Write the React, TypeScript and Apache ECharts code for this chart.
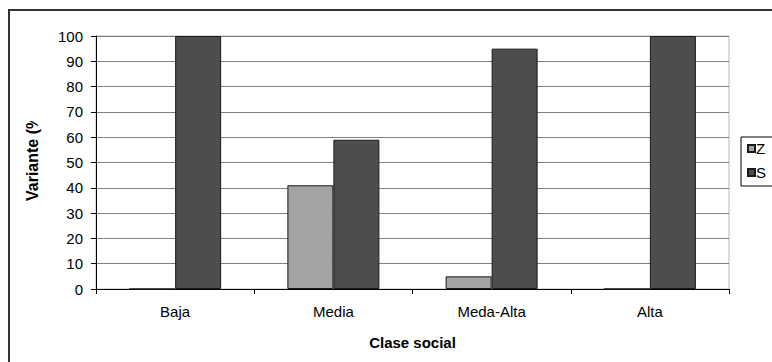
import React, { useEffect, useRef } from "react";
import * as echarts from "echarts";

const categories = ["Baja", "Media", "Meda-Alta", "Alta"];
const seriesNames = ["Z", "S"];
const zValues = [0, 41, 5, 0];
const sValues = [100, 59, 95, 100];
const seriesColors = ["#a3a3a3", "#4d4d4d"];
const xTitle = "Clase social";
const yTitle = "Variante (%)";

const FONT = "'Liberation Sans', Arial, sans-serif";

export default function App() {
  const ref = useRef<HTMLDivElement>(null);

  useEffect(() => {
    if (!ref.current) return;
    const chart = echarts.init(ref.current, undefined, { renderer: "svg" });
    const values = [zValues, sValues];
    chart.setOption({
      animation: false,
      backgroundColor: "#ffffff",
      textStyle: { fontFamily: FONT },
      grid: {
        left: 96,
        right: 43,
        top: 36,
        bottom: 73,
        show: true,
        borderColor: "#b8b8b8",
        borderWidth: 1,
        backgroundColor: "transparent",
      },
      legend: {
        orient: "vertical",
        left: 741,
        top: 137,
        padding: [4, 40, 6, 6],
        itemGap: 9,
        itemWidth: 7,
        itemHeight: 7,
        icon: "rect",
        borderColor: "#000",
        borderWidth: 1,
        textStyle: { fontSize: 15, color: "#000", fontFamily: FONT, padding: [0, 0, 0, -4] },
        data: seriesNames,
      },
      xAxis: {
        type: "category",
        data: categories,
        boundaryGap: true,
        name: xTitle,
        nameLocation: "middle",
        nameGap: 46,
        nameTextStyle: { fontSize: 15, fontWeight: "bold", color: "#000", fontFamily: FONT },
        axisLine: { lineStyle: { color: "#000", width: 1 } },
        axisTick: { show: true, length: 5, lineStyle: { color: "#000" } },
        axisLabel: { fontSize: 15, color: "#000", margin: 15, fontFamily: FONT },
        splitLine: { show: false },
      },
      yAxis: {
        type: "value",
        min: 0,
        max: 100,
        interval: 10,
        axisLine: { show: true, lineStyle: { color: "#000", width: 1 } },
        axisTick: { show: true, length: 5, lineStyle: { color: "#000" } },
        axisLabel: { fontSize: 15, color: "#000", margin: 13, fontFamily: FONT },
        splitLine: { show: true, lineStyle: { color: "#808080", width: 1 } },
      },
      series: seriesNames.map((name, i) => ({
        name,
        type: "bar",
        data: values[i],
        barWidth: 46,
        barGap: "0%",
        itemStyle: { color: seriesColors[i], borderColor: "#1a1a1a", borderWidth: 1 },
      })),
      graphic: [
        {
          type: "rect",
          shape: { x: 9, y: 10, width: 800, height: 400 },
          style: { fill: "none", stroke: "#333", lineWidth: 2 },
          silent: true,
          z: 10,
        },
        {
          type: "text",
          x: 32,
          y: 201,
          rotation: Math.PI / 2,
          style: {
            text: yTitle,
            fontSize: 16,
            fontWeight: "bold",
            fontFamily: FONT,
            fill: "#000",
            align: "left",
            verticalAlign: "middle",
          },
          z: 20,
        },
        {
          // the title box is narrower than the title, so its end is cut off
          type: "rect",
          shape: { x: 18, y: 13, width: 30, height: 108 },
          style: { fill: "#ffffff" },
          silent: true,
          z: 30,
        },
      ],
    });
    return () => chart.dispose();
  }, []);

  return <div ref={ref} style={{ width: 772, height: 362, position: "absolute", left: 0, top: 0 }} />;
}
